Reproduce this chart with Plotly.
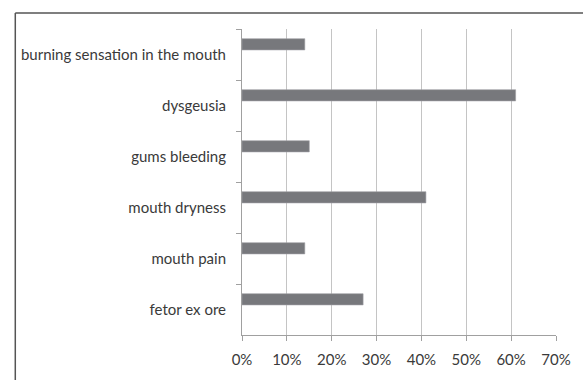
import plotly.graph_objects as go

categories = ["burning sensation in the mouth", "dysgeusia", "gums bleeding",
              "mouth dryness", "mouth pain", "fetor ex ore"]
values = [0.14, 0.61, 0.15, 0.41, 0.14, 0.27]
x_ticks = [0, 0.1, 0.2, 0.3, 0.4, 0.5, 0.6, 0.7]
x_ticktext = ["0%", "10%", "20%", "30%", "40%", "50%", "60%", "70%"]

fig = go.Figure()
fig.add_trace(go.Bar(
    x=values, y=categories, orientation="h",
    width=0.22, offset=-0.31,
    marker=dict(color="#77787c", line=dict(color="#a0a0a4", width=0.6)),
    showlegend=False,
))

font = dict(family="Lato", size=15, color="#3a3a3a")
fig.update_layout(
    width=583, height=380,
    margin=dict(l=242, r=23, t=29, b=36),
    paper_bgcolor="white", plot_bgcolor="white",
    font=font,
    xaxis=dict(range=[0, 0.7], tickvals=x_ticks, ticktext=x_ticktext,
               showgrid=True, gridcolor="#c4c4c4", gridwidth=1,
               showline=True, linecolor="#a0a0a0", linewidth=1,
               ticks="outside", ticklen=5, tickcolor="#a0a0a0",
               zeroline=False, tickfont=font, ticklabelstandoff=6, fixedrange=True),
    yaxis=dict(type="category", categoryorder="array", categoryarray=categories,
               autorange="reversed", tickson="boundaries",
               showgrid=False, showline=True, linecolor="#a0a0a0", linewidth=1,
               ticks="outside", ticklen=5, tickcolor="#a0a0a0",
               tickfont=font, ticklabelstandoff=12, fixedrange=True),
    shapes=[
        dict(type="line", xref="paper", yref="paper", x0=-0.722, x1=1.2,
             y0=1.0524, y1=1.0524, line=dict(color="#555555", width=1.5)),
        dict(type="line", xref="paper", yref="paper", x0=-0.722, x1=-0.722,
             y0=-0.3, y1=1.0524, line=dict(color="#555555", width=1.5)),
    ],
)

fig.write_html("out.html")
